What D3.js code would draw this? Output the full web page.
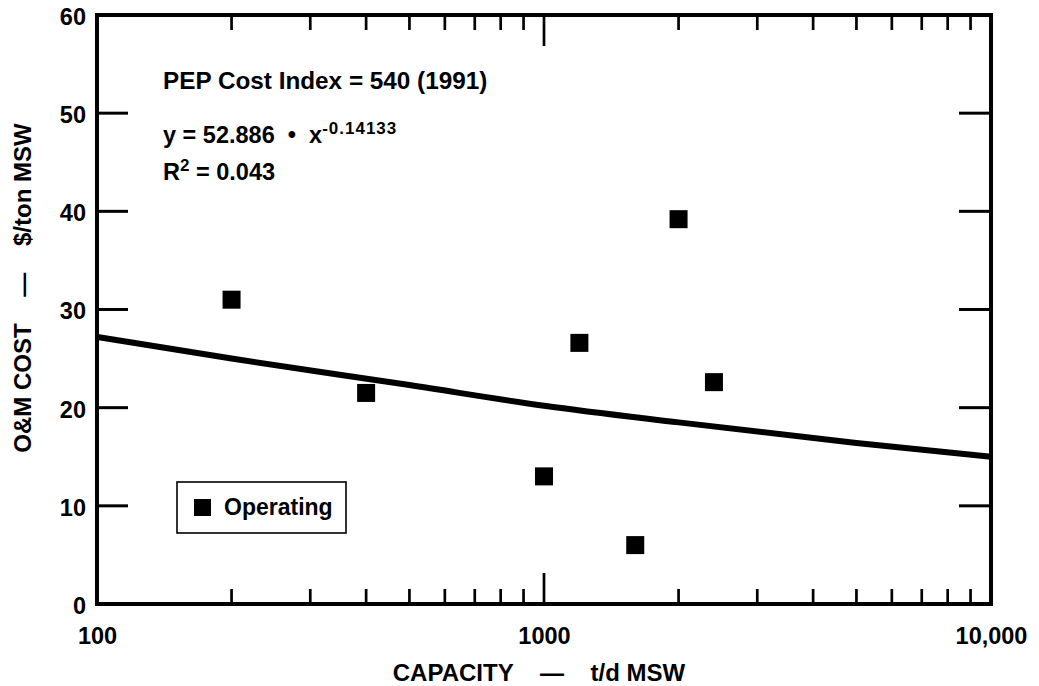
<!DOCTYPE html>
<html>
<head>
<meta charset="utf-8">
<script src="https://cdn.jsdelivr.net/npm/d3@7"></script>
<style>
  html, body { margin: 0; padding: 0; background: #fff; }
  svg { display: block; }
  text { font-family: "Liberation Sans", Arial, Helvetica, sans-serif; font-weight: bold; fill: #000; }
</style>
</head>
<body>
<svg id="chart" width="1039" height="686"></svg>
<script>
// ---- data ----
const capacity = [200, 400, 1000, 1200, 1600, 2000, 2400];      // t/d MSW
const omCost   = [31.0, 21.5, 13.0, 26.6, 6.0, 39.2, 22.6];     // $/ton MSW
const fitCapacity = [100, 200, 500, 1000, 2000, 5000, 10000];
const fitCost     = [27.2, 25.0, 22.3, 20.2, 18.5, 16.4, 15.0];
const yTicks = [0, 10, 20, 30, 40, 50, 60];
const xMajorTicks = [100, 1000, 10000];
const xTickLabels = ["100", "1000", "10,000"];
const xMinorTicks = [200, 300, 400, 500, 600, 700, 800, 900, 2000, 3000, 4000, 5000, 6000, 7000, 8000, 9000];
const legendLabel = "Operating";

// ---- layout ----
const L = 97, R = 991, T = 15, B = 604;
const svg = d3.select("#chart");
const x = d3.scaleLog().domain([100, 10000]).range([L, R]);
const y = d3.scaleLinear().domain([0, 60]).range([B, T]);

// tick marks (inward, both sides)
const tickG = svg.append("g").attr("stroke", "#000");
tickG.selectAll(".yl").data(yTicks.slice(1, -1)).join("line")
  .attr("x1", L).attr("x2", L + 31).attr("y1", d => y(d)).attr("y2", d => y(d)).attr("stroke-width", 3);
tickG.selectAll(".yr").data(yTicks.slice(1, -1)).join("line")
  .attr("x1", R).attr("x2", R - 32).attr("y1", d => y(d)).attr("y2", d => y(d)).attr("stroke-width", 3);
const minorLen = 15, majorLen = 31;
[...xMinorTicks, 1000].forEach(v => {
  const len = v === 1000 ? majorLen : minorLen;
  tickG.append("line").attr("x1", x(v)).attr("x2", x(v)).attr("y1", T).attr("y2", T + len).attr("stroke-width", 2.7);
  tickG.append("line").attr("x1", x(v)).attr("x2", x(v)).attr("y1", B).attr("y2", B - len).attr("stroke-width", 2.7);
});

// frame
svg.append("rect").attr("x", L).attr("y", T).attr("width", R - L).attr("height", B - T)
  .attr("fill", "none").attr("stroke", "#000").attr("stroke-width", 4);

// y axis labels via d3 axis
const yAxis = d3.axisLeft(y).tickValues(yTicks).tickSize(0).tickPadding(11).tickFormat(d3.format("d"));
const gy = svg.append("g").attr("transform", `translate(${L},0)`).call(yAxis);
gy.select(".domain").remove();
gy.selectAll("text").attr("font-size", 23.5).attr("font-family", "Liberation Sans, Arial, sans-serif")
  .attr("font-weight", "bold").attr("dy", "0.40em");

// x axis labels via d3 axis
const xAxis = d3.axisBottom(x).tickValues(xMajorTicks).tickSize(0).tickPadding(23)
  .tickFormat((d, i) => xTickLabels[i]);
const gx = svg.append("g").attr("transform", `translate(0,${B})`).call(xAxis);
gx.select(".domain").remove();
gx.selectAll("text").attr("font-size", 23.5).attr("font-family", "Liberation Sans, Arial, sans-serif")
  .attr("font-weight", "bold");

// axis titles
const xt = svg.append("text").attr("x", 539).attr("y", 681).attr("text-anchor", "middle").attr("font-size", 24)
  .attr("xml:space", "preserve").text("CAPACITY    \u2014    t/d MSW");
svg.append("text").attr("transform", "translate(31,288) rotate(-90)").attr("text-anchor", "middle")
  .attr("font-size", 24).attr("xml:space", "preserve").text("O&M COST    \u2014    $/ton MSW");

// fit line
const line = d3.line().x((d, i) => x(fitCapacity[i])).y(d => y(d)).curve(d3.curveMonotoneX);
svg.append("path").datum(fitCost).attr("d", line).attr("fill", "none").attr("stroke", "#000")
  .attr("stroke-width", 6);

// markers
const ms = 18;
svg.append("g").selectAll("rect").data(capacity).join("rect")
  .attr("x", d => x(d) - ms / 2).attr("y", (d, i) => y(omCost[i]) - ms / 2)
  .attr("width", ms).attr("height", ms).attr("fill", "#000");

// annotations
svg.append("text").attr("x", 163).attr("y", 89).attr("font-size", 24.3).text("PEP Cost Index = 540 (1991)");
const eq = svg.append("text").attr("x", 163).attr("y", 143).attr("font-size", 23.5).attr("xml:space", "preserve");
eq.append("tspan").text("y = 52.886  \u2022  x");
eq.append("tspan").attr("font-size", 17).attr("dy", -9).attr("letter-spacing", 1).text("-0.14133");
const r2 = svg.append("text").attr("x", 163).attr("y", 180).attr("font-size", 23.5);
r2.append("tspan").text("R");
r2.append("tspan").attr("font-size", 17).attr("dy", -9).text("2");
r2.append("tspan").attr("dy", 9).text(" = 0.043");

// legend
const lg = svg.append("g");
lg.append("rect").attr("x", 177).attr("y", 482).attr("width", 169).attr("height", 51)
  .attr("fill", "#fff").attr("stroke", "#000").attr("stroke-width", 1.6);
lg.append("rect").attr("x", 194).attr("y", 499).attr("width", 17).attr("height", 17).attr("fill", "#000");
lg.append("text").attr("x", 224).attr("y", 515).attr("font-size", 23).text(legendLabel);
</script>
</body>
</html>
